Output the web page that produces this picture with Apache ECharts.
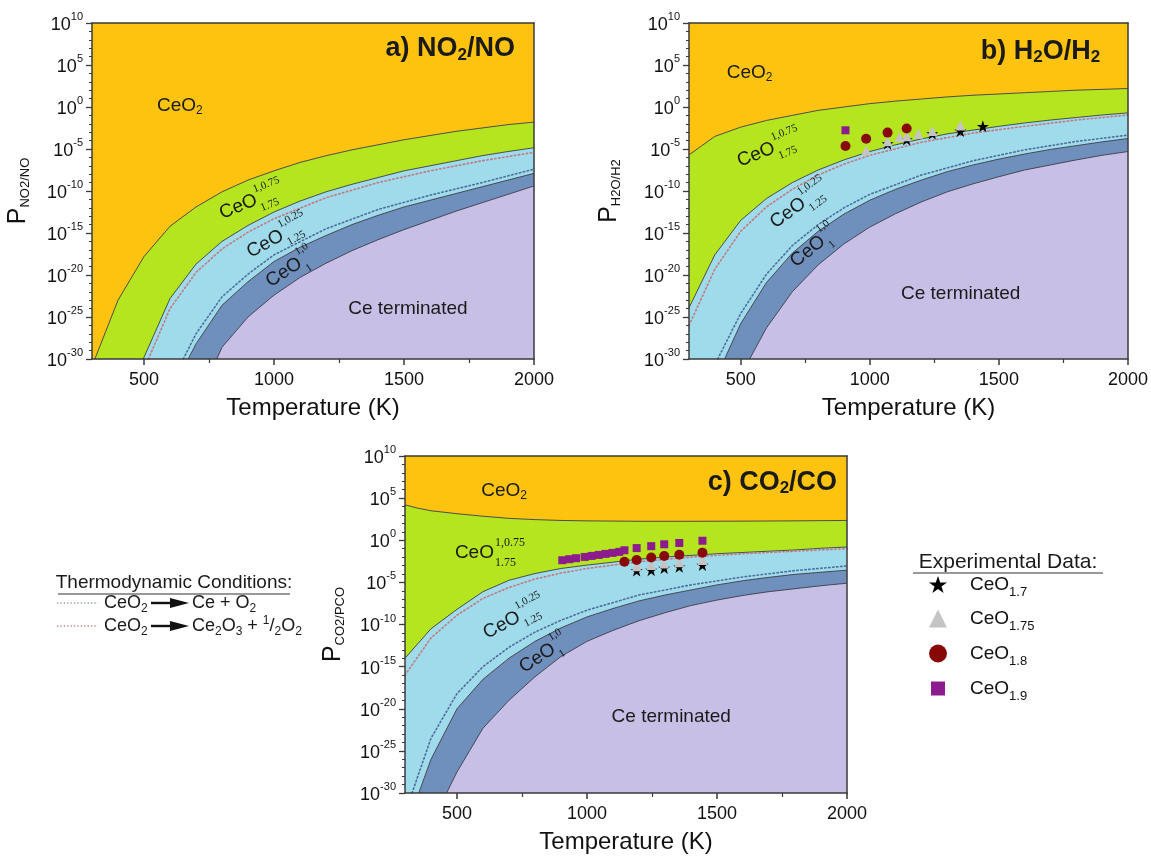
<!DOCTYPE html>
<html><head><meta charset="utf-8">
<script src="https://cdn.jsdelivr.net/npm/echarts@6/dist/echarts.min.js"></script>
<style>html,body{margin:0;padding:0;background:#fff}#c{width:1151px;height:856px}</style>
</head><body><div id="c"></div>
<script>
// ---------------- DATA (T in K, value = log10 P) ----------------
const yTickValues = [-30,-25,-20,-15,-10,-5,0,5,10];
const xTickLabels = [500,1000,1500,2000];
const xMinorTicks = [750,1250,1750];

// panel a) NO2/NO
const a_b1 = [[311,-30],[400,-23],[500,-17.8],[600,-14.2],[700,-11.9],[800,-10.1],[900,-8.7],[1000,-7.6],[1100,-6.6],[1200,-5.8],[1300,-5.1],[1400,-4.5],[1500,-3.9],[1600,-3.4],[1700,-2.9],[1800,-2.5],[1900,-2.1],[2000,-1.8]];
const a_b2 = [[497,-30],[600,-22.8],[700,-18.7],[800,-16.0],[900,-14.1],[1000,-12.5],[1100,-11.2],[1200,-10.1],[1300,-9.2],[1400,-8.4],[1500,-7.6],[1600,-7.0],[1700,-6.4],[1800,-5.8],[1900,-5.3],[2000,-4.85]];
const a_b3 = [[670,-30],[700,-28.2],[800,-23.6],[900,-20.8],[1000,-18.4],[1100,-16.7],[1200,-15.3],[1300,-14.0],[1400,-12.9],[1500,-11.9],[1600,-11.1],[1700,-10.3],[1800,-9.5],[1900,-8.7],[2000,-7.9]];
const a_b4 = [[780,-30],[800,-28.6],[900,-25.0],[1000,-22.4],[1100,-20.3],[1200,-18.6],[1300,-17.1],[1400,-15.8],[1500,-14.6],[1600,-13.5],[1700,-12.4],[1800,-11.4],[1900,-10.4],[2000,-9.4]];
const a_red = [[517,-30],[600,-24.0],[700,-19.7],[800,-16.9],[900,-14.9],[1000,-13.3],[1200,-10.8],[1400,-9.0],[1600,-7.6],[1800,-6.4],[2000,-5.4]];
const a_blue = [[651,-30],[700,-27.0],[800,-22.6],[900,-19.9],[1000,-17.6],[1200,-14.5],[1400,-12.2],[1600,-10.5],[1800,-9.0],[2000,-7.4]];

// panel b) H2O/H2
const b_b1 = [[300,-5.7],[400,-3.5],[500,-2.4],[600,-1.6],[700,-1.0],[800,-0.4],[900,0.0],[1000,0.4],[1100,0.7],[1200,0.95],[1300,1.2],[1400,1.4],[1500,1.55],[1600,1.7],[1700,1.85],[1800,2.0],[1900,2.1],[2000,2.2]];
const b_b2 = [[300,-23.9],[400,-17.6],[500,-13.5],[600,-10.9],[700,-9.0],[800,-7.5],[900,-6.3],[1000,-5.3],[1100,-4.5],[1200,-3.8],[1300,-3.2],[1400,-2.75],[1500,-2.3],[1600,-1.9],[1700,-1.55],[1800,-1.25],[1900,-0.95],[2000,-0.7]];
const b_b3 = [[438,-30],[500,-25.8],[600,-20.9],[700,-17.4],[800,-14.8],[900,-12.75],[1000,-11.1],[1100,-9.8],[1200,-8.7],[1300,-7.7],[1400,-6.9],[1500,-6.2],[1600,-5.6],[1700,-5.05],[1800,-4.6],[1900,-4.15],[2000,-3.75]];
const b_b4 = [[535,-30],[600,-26.3],[700,-22.0],[800,-18.8],[900,-16.3],[1000,-14.3],[1100,-12.7],[1200,-11.3],[1300,-10.1],[1400,-9.15],[1500,-8.3],[1600,-7.5],[1700,-6.9],[1800,-6.3],[1900,-5.75],[2000,-5.3]];
const b_red = [[300,-26.0],[400,-19.3],[500,-14.8],[600,-11.9],[700,-9.8],[800,-8.1],[900,-6.8],[1000,-5.75],[1200,-4.2],[1400,-3.1],[1600,-2.3],[1800,-1.55],[2000,-0.95]];
const b_blue = [[411,-30],[500,-24.6],[600,-19.9],[700,-16.5],[800,-14.0],[900,-12.0],[1000,-10.4],[1200,-8.1],[1400,-6.4],[1600,-5.1],[1800,-4.1],[2000,-3.35]];

// panel c) CO2/CO
const c_b1 = [[300,4.2],[350,3.8],[400,3.5],[500,3.15],[600,2.85],[700,2.6],[800,2.45],[900,2.35],[1000,2.3],[1200,2.25],[1400,2.25],[1600,2.27],[1800,2.3],[2000,2.35]];
const c_b2 = [[300,-14.0],[400,-10.5],[500,-8.2],[600,-6.1],[700,-4.75],[800,-3.95],[900,-3.35],[1000,-2.95],[1100,-2.6],[1200,-2.25],[1300,-2.0],[1400,-1.8],[1500,-1.6],[1600,-1.45],[1700,-1.3],[1800,-1.15],[1900,-0.95],[2000,-0.8]];
const c_b3 = [[353,-30],[400,-26.0],[500,-20.0],[600,-16.5],[700,-14.0],[800,-12.0],[900,-10.4],[1000,-9.1],[1100,-8.1],[1200,-7.2],[1300,-6.5],[1400,-5.9],[1500,-5.3],[1600,-4.8],[1700,-4.4],[1800,-4.05],[1900,-3.8],[2000,-3.55]];
const c_b4 = [[460,-30],[500,-27.5],[600,-22.3],[700,-19.0],[800,-16.2],[900,-13.8],[1000,-12.0],[1100,-10.7],[1200,-9.55],[1300,-8.6],[1400,-7.75],[1500,-7.1],[1600,-6.55],[1700,-6.1],[1800,-5.75],[1900,-5.4],[2000,-5.1]];
const c_red = [[300,-16.0],[400,-11.6],[500,-8.9],[600,-6.9],[700,-5.6],[800,-4.6],[900,-3.9],[1000,-3.35],[1200,-2.55],[1400,-2.0],[1600,-1.6],[1800,-1.3],[2000,-1.0]];
const c_blue = [[327,-30],[400,-23.5],[500,-18.2],[600,-15.0],[700,-12.7],[800,-10.9],[900,-9.5],[1000,-8.3],[1200,-6.5],[1400,-5.3],[1600,-4.35],[1800,-3.6],[2000,-3.05]];

// experimental data
const b_ceo17 = [[1069,-4.36],[1143,-3.88],[1242,-3.17],[1351,-2.86],[1438,-2.30]];
const b_ceo175 = [[986,-5.17],[1069,-4.08],[1115,-3.57],[1143,-3.49],[1188,-3.17],[1242,-2.86],[1351,-2.21]];
const b_ceo18 = [[906,-4.64],[986,-3.77],[1069,-3.05],[1143,-2.57]];
const b_ceo19 = [[906,-2.77]];
const c_ceo17 = [[1191,-3.6],[1247,-3.55],[1297,-3.3],[1355,-3.15],[1444,-2.95]];
const c_ceo175 = [[1191,-3.1],[1247,-2.95],[1297,-2.75],[1355,-2.62],[1444,-2.35]];
const c_ceo18 = [[1144,-2.56],[1191,-2.35],[1247,-2.05],[1297,-1.87],[1355,-1.72],[1444,-1.47]];
const c_ceo19 = [[905,-2.37],[932,-2.25],[958,-2.13],[991,-1.98],[1018,-1.86],[1045,-1.74],[1071,-1.62],[1098,-1.50],[1124,-1.38],[1144,-1.19],[1191,-0.93],[1247,-0.70],[1297,-0.48],[1355,-0.32],[1444,-0.06]];

const seriesNames = ['CeO1.7','CeO1.75','CeO1.8','CeO1.9'];
const seriesSubs = ['1.7','1.75','1.8','1.9'];

// ---------------- STYLE ----------------
const SANS = '"Liberation Sans", Arial, Helvetica, sans-serif';
const SERIF = '"Liberation Serif", "Times New Roman", serif';
const C_ORANGE = '#FDC30F', C_GREEN = '#B4E51F', C_LBLUE = '#9FDBEA', C_DBLUE = '#6F8FBC', C_LAV = '#C8BFE6';
const fills = [C_GREEN, C_LBLUE, C_DBLUE, C_LAV];
const C_RED_DOT = '#C27A80', C_BLUE_DOT = '#4F6C9C';
const STAR = 'path://M50,2 L61.8,37.6 L99,37.6 L69,59.6 L80.4,95 L50,73.2 L19.6,95 L31,59.6 L1,37.6 L38.2,37.6 Z';
const markerSyms = [STAR,'triangle','circle','rect'];
const markerSizes = [12,10,10,8];
const markerColors = ['#000000','#C4C4C4','#880808','#8C1C8E'];

const panels = [
  {grid:{left:92, top:23, width:442, height:336}, b:[a_b1,a_b2,a_b3,a_b4], red:a_red, blue:a_blue, sub:'NO2/NO', nameGap:60, exp:null},
  {grid:{left:689, top:23, width:442, height:336}, b:[b_b1,b_b2,b_b3,b_b4], red:b_red, blue:b_blue, sub:'H2O/H2', nameGap:66, exp:[b_ceo17,b_ceo175,b_ceo18,b_ceo19]},
  {grid:{left:405, top:456, width:442, height:337}, b:[c_b1,c_b2,c_b3,c_b4], red:c_red, blue:c_blue, sub:'CO2/PCO', nameGap:58, exp:[c_ceo17,c_ceo175,c_ceo18,c_ceo19]}
];

const grid = [], xAxis = [], yAxis = [], series = [];
const AX = '#3a3a3a';
panels.forEach((p, i) => {
  grid.push(Object.assign({show:true, backgroundColor:C_ORANGE, borderWidth:0, containLabel:false}, p.grid));
  xAxis.push({gridIndex:i, type:'value', min:300, max:2000, position:'bottom', z:10,
    axisLine:{show:true, onZero:false, lineStyle:{color:AX, width:1.5}},
    axisTick:{show:true, customValues:xTickLabels, length:6, lineStyle:{color:AX, width:1.5}},
    axisLabel:{show:true, customValues:xTickLabels, formatter: v => String(v), fontSize:18, fontFamily:SANS, color:'#111', margin:12},
    splitLine:{show:false},
    name:'Temperature (K)', nameLocation:'middle', nameGap:37,
    nameTextStyle:{fontSize:24, fontFamily:SANS, color:'#111'}});
  xAxis.push({gridIndex:i, type:'value', min:300, max:2000, position:'bottom', z:10,
    axisLine:{show:false, onZero:false},
    axisTick:{show:true, customValues:xMinorTicks, length:4, lineStyle:{color:AX, width:1.2}},
    axisLabel:{show:false}, splitLine:{show:false}});
  xAxis.push({gridIndex:i, type:'value', min:300, max:2000, position:'top', z:10,
    axisLine:{show:true, onZero:false, lineStyle:{color:AX, width:1.5}},
    axisTick:{show:false}, axisLabel:{show:false}, splitLine:{show:false}});
  yAxis.push({gridIndex:i, type:'value', min:-30, max:10, interval:5, position:'left', z:10,
    axisLine:{show:true, onZero:false, lineStyle:{color:AX, width:1.5}},
    axisTick:{show:true, length:6, lineStyle:{color:AX, width:1.3}},
    minorTick:{show:true, splitNumber:5, length:3, lineStyle:{color:AX, width:1}},
    splitLine:{show:false}, minorSplitLine:{show:false},
    axisLabel:{margin:9, formatter: v => '{b|10}{s|' + v + '}',
      rich:{b:{fontSize:18, fontFamily:SANS, color:'#111', padding:[4,0,0,0], verticalAlign:'middle'},
            s:{fontSize:11, fontFamily:SANS, color:'#111', padding:[0,0,12,0], verticalAlign:'middle'}}},
    name:'{p|P}{s|' + p.sub + '}', nameLocation:'middle', nameGap:p.nameGap,
    nameTextStyle:{rich:{p:{fontSize:25, fontFamily:SANS, color:'#111', verticalAlign:'middle'},
                          s:{fontSize:13, fontFamily:SANS, color:'#111', padding:[14,0,0,0], verticalAlign:'middle'}}}});
  yAxis.push({gridIndex:i, type:'value', min:-30, max:10, position:'right', z:10,
    axisLine:{show:true, onZero:false, lineStyle:{color:AX, width:1.5}},
    axisTick:{show:false}, axisLabel:{show:false}, splitLine:{show:false}});

  const xi = 3*i, yi = 2*i;
  p.b.forEach((d, k) => {
    series.push({type:'line', xAxisIndex:xi, yAxisIndex:yi, data:d, symbol:'none', silent:true, z:2,
      lineStyle:{color:'#3d3d4a', width:0.9}, areaStyle:{color:fills[k], opacity:1, origin:'start'}});
  });
  series.push({type:'line', xAxisIndex:xi, yAxisIndex:yi, data:p.red, symbol:'none', silent:true, z:3,
    lineStyle:{color:C_RED_DOT, width:1.6, type:[1.4,2.6], cap:'round'}});
  series.push({type:'line', xAxisIndex:xi, yAxisIndex:yi, data:p.blue, symbol:'none', silent:true, z:3,
    lineStyle:{color:C_BLUE_DOT, width:1.6, type:[1.4,2.6], cap:'round'}});
  if (p.exp) {
    p.exp.forEach((d, k) => {
      series.push({name:seriesNames[k], type:'scatter', xAxisIndex:xi, yAxisIndex:yi, data:d, z:5,
        symbol:markerSyms[k], symbolSize:markerSizes[k], itemStyle:{color:markerColors[k], opacity:1}, silent:true});
    });
  }
});

const legendCenters = [588, 622, 657, 692];
const legend = seriesNames.map((n, k) => {
  const w = k === 3 ? 14 : 18;
  const left = 938 - w/2;
  const pad = 970 - (left + w + 5);
  return {data:[n], left:left, top:legendCenters[k] - 13, orient:'vertical', itemWidth:w, itemHeight:w,
    selectedMode:false, padding:0,
    formatter: () => '{m|CeO}{s|' + seriesSubs[k] + '}',
    textStyle:{rich:{m:{fontSize:19, fontFamily:SANS, color:'#111', padding:[0,0,0,pad], verticalAlign:'middle'},
                     s:{fontSize:13, fontFamily:SANS, color:'#111', padding:[16,0,0,0], verticalAlign:'middle'}}}};
});

const option = {animation:false, backgroundColor:'#fff', grid, xAxis, yAxis, series, legend};
const chart = echarts.init(document.getElementById('c'));
chart.setOption(option);

// ---------------- ANNOTATIONS ----------------
function P(i, T, v) { return chart.convertToPixel({xAxisIndex:3*i, yAxisIndex:2*i}, [T, v]); }
function ts(text, size, family, align, va, extra) {
  return Object.assign({text, fontSize:size, fontFamily:family, fill:'#1a1a1a', textAlign:align, textVerticalAlign:va, align:align, verticalAlign:va}, extra || {});
}
const richSub = {
  m:{fontSize:18, fontFamily:SANS, color:'#1a1a1a', verticalAlign:'middle'},
  s:{fontSize:12, fontFamily:SANS, color:'#1a1a1a', padding:[11,0,0,0], verticalAlign:'middle'},
  u:{fontSize:12, fontFamily:SANS, color:'#1a1a1a', padding:[0,0,11,0], verticalAlign:'middle'}
};
const richSub19 = Object.assign({}, richSub, {m:{fontSize:19, fontFamily:SANS, color:'#1a1a1a', verticalAlign:'middle'}});
function phaseLabel(i, T, v, rot, sup, sub, size) {
  const [cx, cy] = P(i, T, v);
  const fs = size || 11;
  const th = rot * Math.PI / 180, c = Math.cos(th), s = Math.sin(th);
  const mainW = 39;
  const total = mainW + 2 + Math.max(sup.length, sub.length) * fs * 0.5;
  const x0 = -total / 2;
  const place = (dx, dy) => [cx + dx * c + dy * s, cy - dx * s + dy * c];
  const parts = [
    [x0, 0, 'CeO', 19, SANS],
    [x0 + mainW + 1, -10, sup, fs, SERIF],
    [x0 + mainW + 1, 10, sub, fs, SERIF]
  ];
  return parts.map(([dx, dy, t, f, fam]) => {
    const [x, y] = place(dx, dy);
    return {type:'text', x, y, rotation:th, silent:true, z:50, style:ts(t, f, fam, 'left', 'middle')};
  });
}
function plainLabel(i, T, v, text, align) {
  const [x, y] = P(i, T, v);
  return {type:'text', x, y, silent:true, z:50, style:Object.assign(ts(text, 19, SANS, align || 'center', 'middle'), {rich:richSub19})};
}
function titleLabel(i, T, v, text) {
  const [x, y] = P(i, T, v);
  return {type:'text', x, y, silent:true, z:50, style:Object.assign(ts(text, 27, SANS, 'right', 'middle'), {
    rich:{t:{fontSize:27, fontWeight:'bold', fontFamily:SANS, color:'#111', verticalAlign:'middle'},
          s:{fontSize:17, fontWeight:'bold', fontFamily:SANS, color:'#111', padding:[12,0,0,0], verticalAlign:'middle'}}})};
}

const graphic = [].concat(
  titleLabel(0, 1927, 6.9, '{t|a) NO}{s|2}{t|/NO}'),
  plainLabel(0, 550, 0.2, '{m|CeO}{s|2}', 'left'),
  phaseLabel(0, 925, -11.1, 22, '1,0.75', '1.75'),
  phaseLabel(0, 1025, -15.3, 29, '1,0.25', '1.25'),
  phaseLabel(0, 1068, -19.1, 33, '1,0', '1'),
  plainLabel(0, 1515, -24.0, 'Ce terminated'),
  titleLabel(1, 1892, 6.6, '{t|b) H}{s|2}{t|O/H}{s|2}'),
  plainLabel(1, 446, 4.1, '{m|CeO}{s|2}', 'left'),
  phaseLabel(1, 623, -4.9, 22, '1,0.75', '1.75'),
  phaseLabel(1, 738, -11.4, 36, '1,0.25', '1.25'),
  phaseLabel(1, 788, -16.5, 39, '1,0', '1'),
  plainLabel(1, 1352, -22.2, 'Ce terminated'),
  titleLabel(2, 1962, 6.9, '{t|c) CO}{s|2}{t|/CO}'),
  plainLabel(2, 593, 5.9, '{m|CeO}{s|2}', 'left'),
  phaseLabel(2, 640, -1.5, 0, '1,0.75', '1.75', 12),
  phaseLabel(2, 732, -9.1, 28, '1,0.25', '1.25'),
  phaseLabel(2, 839, -13.4, 33, '1,0', '1'),
  plainLabel(2, 1324, -20.9, 'Ce terminated'),
  [
  {type:'text', x:174, y:583, silent:true, style:ts('Thermodynamic Conditions:', 19, SANS, 'center', 'middle')},
  {type:'line', silent:true, shape:{x1:58, y1:594, x2:290, y2:594}, style:{stroke:'#333', lineWidth:1.2}},
  {type:'line', silent:true, shape:{x1:57, y1:603, x2:98, y2:603}, style:{stroke:'#8A96B4', lineWidth:1.4, lineDash:[1.2,2.2]}},
  {type:'text', x:104, y:603, silent:true, style:Object.assign(ts('{m|CeO}{s|2}', 18, SANS, 'left', 'middle'), {rich:richSub})},
  {type:'line', silent:true, shape:{x1:151, y1:603, x2:173, y2:603}, style:{stroke:'#111', lineWidth:2.4}},
  {type:'polygon', silent:true, shape:{points:[[170,598],[189,603],[170,608]]}, style:{fill:'#111'}},
  {type:'text', x:192, y:603, silent:true, style:Object.assign(ts('{m|Ce + O}{s|2}', 18, SANS, 'left', 'middle'), {rich:richSub})},
  {type:'line', silent:true, shape:{x1:57, y1:626, x2:98, y2:626}, style:{stroke:C_RED_DOT, lineWidth:1.4, lineDash:[1.2,2.2]}},
  {type:'text', x:104, y:626, silent:true, style:Object.assign(ts('{m|CeO}{s|2}', 18, SANS, 'left', 'middle'), {rich:richSub})},
  {type:'line', silent:true, shape:{x1:151, y1:626, x2:173, y2:626}, style:{stroke:'#111', lineWidth:2.4}},
  {type:'polygon', silent:true, shape:{points:[[170,621],[189,626],[170,631]]}, style:{fill:'#111'}},
  {type:'text', x:192, y:626, silent:true, style:Object.assign(ts('{m|Ce}{s|2}{m|O}{s|3}{m| + }{u|1}{m|/}{s|2}{m|O}{s|2}', 18, SANS, 'left', 'middle'), {rich:richSub})},
  {type:'text', x:1008, y:562, silent:true, style:ts('Experimental Data:', 21, SANS, 'center', 'middle')},
  {type:'line', silent:true, shape:{x1:913, y1:573, x2:1103, y2:573}, style:{stroke:'#333', lineWidth:1.2}}
  ]
);
chart.setOption({graphic});
</script>
</body></html>
